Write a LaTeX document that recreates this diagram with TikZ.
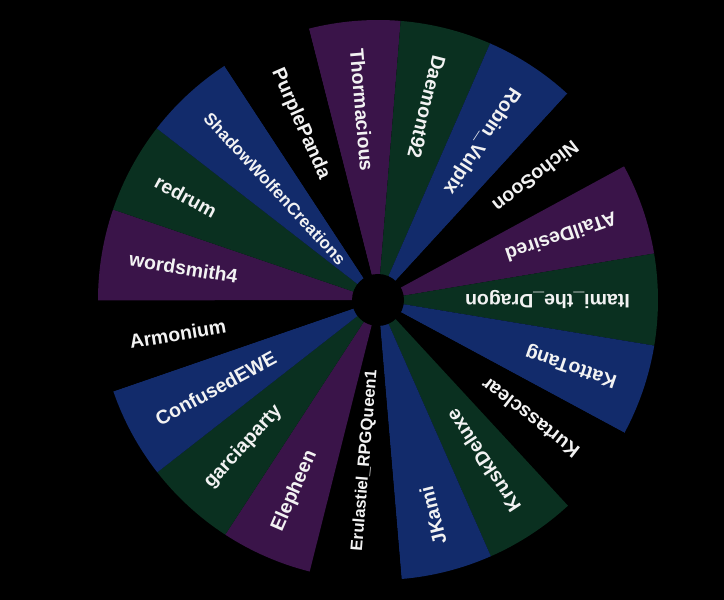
\documentclass[tikz,border=0pt]{standalone}
\usepackage{fontspec}
\setmainfont{Liberation Sans}
\definecolor{wpurple}{HTML}{3A1449}
\definecolor{wgreen}{HTML}{0A3020}
\definecolor{wblue}{HTML}{122B6B}
\definecolor{wblack}{HTML}{000000}
\definecolor{wtext}{HTML}{F2F2F2}
\tikzset{
  lbl/.style={text=wtext, font=\bfseries, inner sep=0pt, anchor=west},
}
\begin{document}
\begin{tikzpicture}[x=1pt,y=1pt]
\useasboundingbox (0,0) rectangle (724,600);
\fill[black] (0,0) rectangle (724,600);
\coordinate (c) at (378,300);
\pgfmathsetmacro{\step}{360/19}
\foreach \nm/\col/\fs [count=\k from 0] in {
  Thormacious/wpurple/19.5,
  Daemont92/wgreen/19.5,
  Robin\_Vulpix/wblue/19.5,
  NichoSoon/wblack/19.5,
  ATailDesired/wpurple/19.5,
  Itami\_the\_Dragon/wgreen/19.5,
  KattoTang/wblue/19.5,
  Kurtassclear/wblack/19.5,
  KruskDeluxe/wgreen/19.5,
  JKami/wblue/19.5,
  Erulastiel\_RPGQueen1/wblack/16.7,
  Elepheen/wpurple/19.5,
  garciaparty/wgreen/19.5,
  ConfusedEWE/wblue/19.5,
  Armonium/wblack/19.5,
  wordsmith4/wpurple/19.5,
  redrum/wgreen/19.5,
  ShadowWolfenCreations/wblue/17,
  PurplePanda/wblack/19.5}
{
  \pgfmathsetmacro{\aone}{104.3-\k*\step}
  \pgfmathsetmacro{\atwo}{\aone-\step}
  \pgfmathsetmacro{\amid}{\aone-\step/2}
  \pgfmathsetmacro{\arot}{\amid+180}
  \fill[\col] (c) -- ([shift={(\aone:280)}]c) arc[start angle=\aone, end angle=\atwo, radius=280] -- cycle;
  \node[lbl, rotate=\arot, font=\fontsize{\fs}{\fs}\selectfont\bfseries] (t\k) at ([shift={(\amid:252)}]c) {\nm};
}
\node[circle, fill=black, minimum size=52pt, inner sep=0pt] (hub) at (c) {};
\end{tikzpicture}
\end{document}
